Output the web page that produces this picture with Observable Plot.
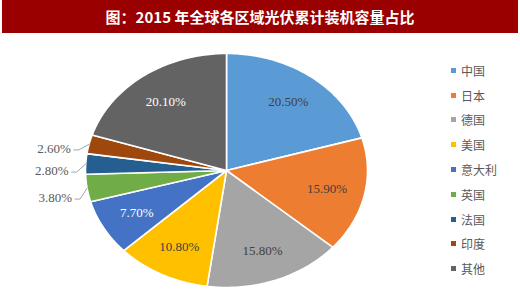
<!DOCTYPE html>
<html>
<head>
<meta charset="utf-8">
<script src="https://cdn.jsdelivr.net/npm/d3@7"></script>
<script src="https://cdn.jsdelivr.net/npm/@observablehq/plot@0.6"></script>
<style>
  html, body { margin: 0; padding: 0; background: #fff; }
  #wrap { position: relative; width: 520px; height: 305px; overflow: hidden; }
  #title { position: absolute; left: 2px; top: 0; width: 516px; height: 33px; background: #9a0000;
    color: #fff; font: bold 15px "Noto Sans CJK SC", sans-serif; text-align: center; line-height: 33px; }
  #chart { position: absolute; left: 0; top: 33px; }
  #legend { position: absolute; left: 451px; top: 58px; font: 12px "Noto Sans CJK SC", sans-serif; color: #595959; }
  #legend .row { height: 24.8px; display: flex; align-items: center; }
  #legend .sw { width: 5px; height: 5px; margin-right: 5px; }
</style>
</head>
<body>
<div id="wrap">
  <div id="title">图：2015 年全球各区域光伏累计装机容量占比</div>
  <div id="chart"></div>
  <div id="legend"></div>
</div>
<script>
const names = ["中国", "日本", "德国", "美国", "意大利", "英国", "法国", "印度", "其他"];
const values = [20.5, 15.9, 15.8, 10.8, 7.7, 3.8, 2.8, 2.6, 20.1];
const colors = ["#5b9bd5", "#ed7d31", "#a5a5a5", "#ffc000", "#4472c4", "#70ad47", "#255e91", "#9e480e", "#636363"];
const outsideNames = ["英国", "法国", "印度"];
const whiteLabelNames = ["意大利", "其他"];

const W = 520, H = 272;
const cx = 226, cy = 137, rx = 141, ry = 117;
const xDomain = [-cx / rx, (W - cx) / rx];
const yDomain = [-(H - cy) / ry, cy / ry];

const arcs = d3.pie().sort(null)(values);
const pts = [];
arcs.forEach((a, i) => {
  const name = names[i];
  pts.push({name, x: 0, y: 0});
  const n = Math.max(2, Math.ceil((a.endAngle - a.startAngle) / (Math.PI / 180)));
  for (let k = 0; k <= n; k++) {
    const t = a.startAngle + (a.endAngle - a.startAngle) * k / n;
    pts.push({name, x: Math.sin(t), y: Math.cos(t)});
  }
  pts.push({name, x: 0, y: 0});
});

const labelData = arcs.map((a, i) => {
  const mid = (a.startAngle + a.endAngle) / 2;
  return {name: names[i], mid, text: values[i].toFixed(2) + "%"};
});
const inside = labelData.filter(d => !outsideNames.includes(d.name)).map(d => ({...d, x: 0.73 * Math.sin(d.mid), y: 0.73 * Math.cos(d.mid)}));
const shift = 3.5 * Math.PI / 180;
const outside = labelData.filter(d => outsideNames.includes(d.name)).map(d => {
  const t = d.mid - shift;
  return {...d, x: 1.12 * Math.sin(t), y: 1.12 * Math.cos(t)};
});
const leaders = [];
outside.forEach(d => {
  leaders.push({name: d.name, x: d.x + 3 / rx, y: d.y - 1 / ry});
  leaders.push({name: d.name, x: d.x + 8 / rx, y: d.y - 1 / ry});
  leaders.push({name: d.name, x: 1.0 * Math.sin(d.mid), y: 1.0 * Math.cos(d.mid)});
});

const plot = Plot.plot({
  width: W, height: H, margin: 0,
  x: {domain: xDomain, axis: null},
  y: {domain: yDomain, axis: null},
  color: {domain: names, range: colors},
  marks: [
    Plot.line(pts, {x: "x", y: "y", z: "name", fill: "name", stroke: "white", strokeWidth: 1.6, curve: "linear", strokeLinejoin: "round"}),
    Plot.text(inside.filter(d => !whiteLabelNames.includes(d.name)), {x: "x", y: "y", text: "text", fill: "#404040", fontSize: 13, fontFamily: "Liberation Serif, Times New Roman, serif"}),
    Plot.text(inside.filter(d => whiteLabelNames.includes(d.name)), {x: "x", y: "y", text: "text", fill: "#ffffff", fontSize: 13, fontFamily: "Liberation Serif, Times New Roman, serif"}),
    Plot.line(leaders, {x: "x", y: "y", z: "name", stroke: "#a6a6a6", strokeWidth: 1}),
    Plot.text(outside, {x: "x", y: "y", text: "text", textAnchor: "end", fill: "#595959", fontSize: 13, fontFamily: "Liberation Serif, Times New Roman, serif"})
  ]
});
document.getElementById("chart").appendChild(plot);

const legend = document.getElementById("legend");
names.forEach((n, i) => {
  const row = document.createElement("div");
  row.className = "row";
  const sw = document.createElement("span");
  sw.className = "sw";
  sw.style.background = colors[i];
  const tx = document.createElement("span");
  tx.textContent = n;
  row.appendChild(sw);
  row.appendChild(tx);
  legend.appendChild(row);
});
</script>
</body>
</html>
